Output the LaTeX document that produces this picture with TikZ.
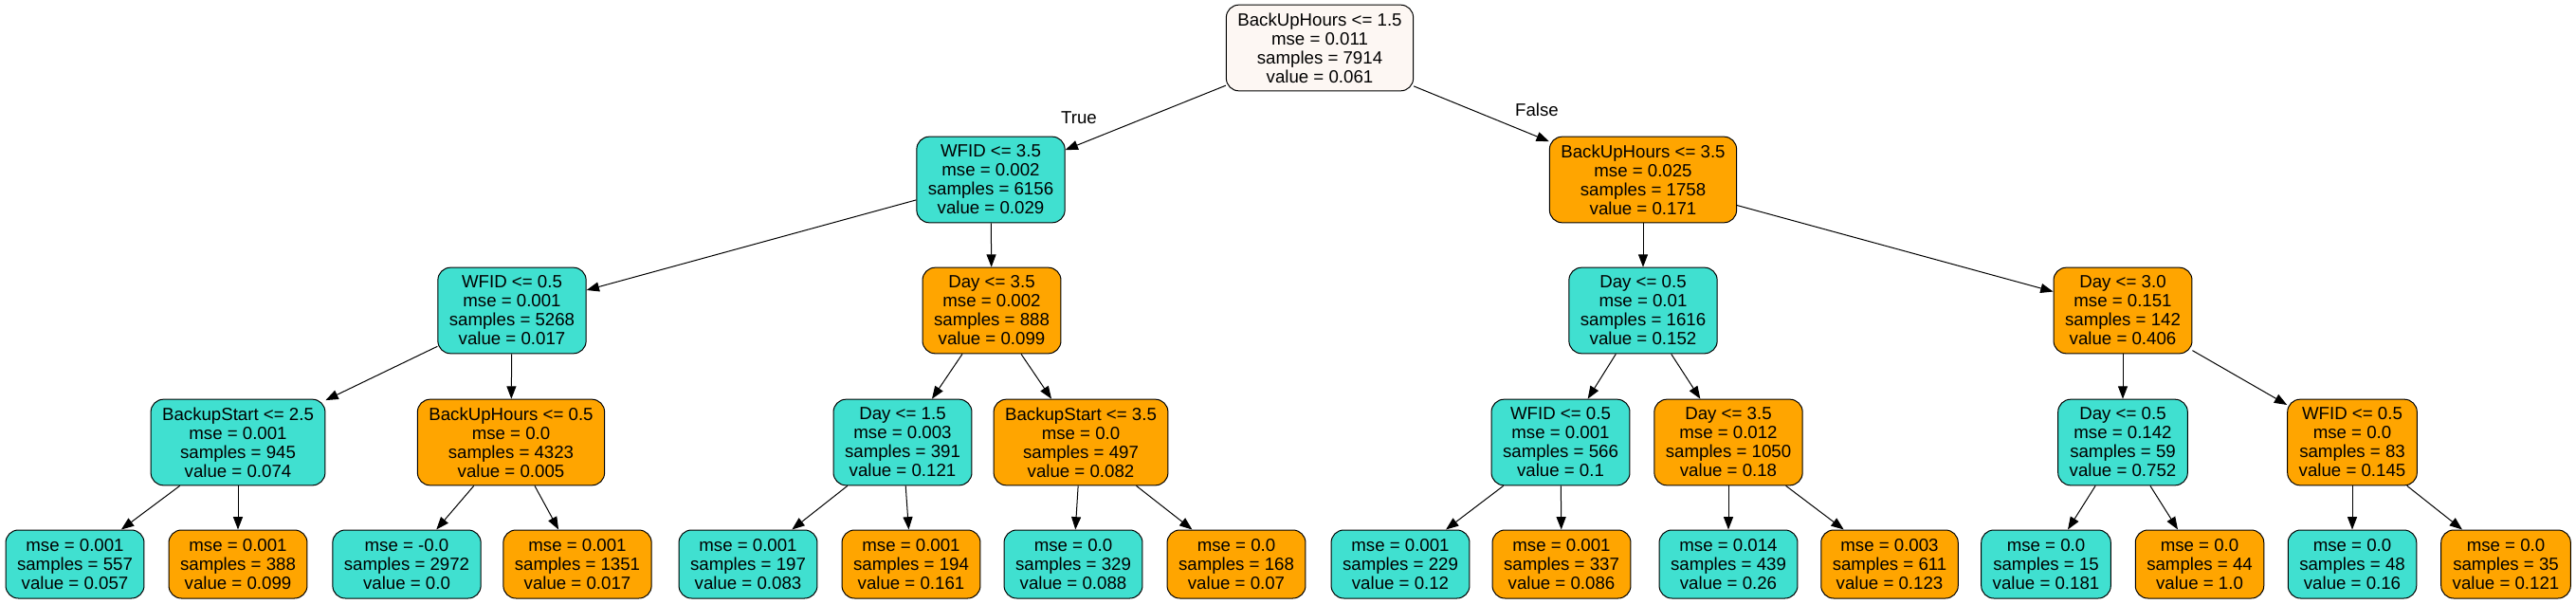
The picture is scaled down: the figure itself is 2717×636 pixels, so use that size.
\documentclass[tikz,border=0pt]{standalone}
\usepackage{fontspec}
\setmainfont{Liberation Sans}
\usetikzlibrary{arrows.meta}

\definecolor{turq}{RGB}{64,224,208}
\definecolor{orng}{RGB}{255,165,0}
\definecolor{rootfill}{RGB}{253,247,243}

\begin{document}
\begin{tikzpicture}[x=0.75pt,y=-0.75pt,
		box/.style={draw,rounded corners=10pt,line width=0.75pt,align=center,
			inner xsep=9pt,font=\fontsize{14}{15}\selectfont},
		split/.style={box,minimum height=68pt},
		leaf/.style={box,minimum height=54pt},
		lo/.style={fill=turq},
		hi/.style={fill=orng},
		edge/.style={line width=0.75pt,-{Triangle[length=10pt,width=7.5pt]}},
		lbl/.style={font=\fontsize{14}{15}\selectfont,inner sep=0pt}]
				\useasboundingbox (0,0) rectangle (2717,636);
				% root
				\node[split,fill=rootfill] (root) at (1392,50.5)
					{BackUpHours <= 1.5\\mse = 0.011\\samples = 7914\\value = 0.061};
				% depth 1
				\node[split,lo] (L) at (1045,189.5)
					{WFID <= 3.5\\mse = 0.002\\samples = 6156\\value = 0.029};
				\node[split,hi] (R) at (1733,189.5)
					{BackUpHours <= 3.5\\mse = 0.025\\samples = 1758\\value = 0.171};
				% depth 2
				\node[split,lo] (LL) at (540,327.5)
					{WFID <= 0.5\\mse = 0.001\\samples = 5268\\value = 0.017};
				\node[split,hi] (LR) at (1046,327.5)
					{Day <= 3.5\\mse = 0.002\\samples = 888\\value = 0.099};
				\node[split,lo] (RL) at (1733,327.5)
					{Day <= 0.5\\mse = 0.01\\samples = 1616\\value = 0.152};
				\node[split,hi] (RR) at (2239,327.5)
					{Day <= 3.0\\mse = 0.151\\samples = 142\\value = 0.406};
				% depth 3
				\node[split,lo] (LLL) at (251,466.5)
					{BackupStart <= 2.5\\mse = 0.001\\samples = 945\\value = 0.074};
				\node[split,hi] (LLR) at (539,466.5)
					{BackUpHours <= 0.5\\mse = 0.0\\samples = 4323\\value = 0.005};
				\node[split,lo] (LRL) at (952,466.5)
					{Day <= 1.5\\mse = 0.003\\samples = 391\\value = 0.121};
				\node[split,hi] (LRR) at (1140,466.5)
					{BackupStart <= 3.5\\mse = 0.0\\samples = 497\\value = 0.082};
				\node[split,lo] (RLL) at (1646,466.5)
					{WFID <= 0.5\\mse = 0.001\\samples = 566\\value = 0.1};
				\node[split,hi] (RLR) at (1823,466.5)
					{Day <= 3.5\\mse = 0.012\\samples = 1050\\value = 0.18};
				\node[split,lo] (RRL) at (2239,466.5)
					{Day <= 0.5\\mse = 0.142\\samples = 59\\value = 0.752};
				\node[split,hi] (RRR) at (2481,466.5)
					{WFID <= 0.5\\mse = 0.0\\samples = 83\\value = 0.145};
				% leaves
				\node[leaf,lo] (LLLL) at (79,595) {mse = 0.001\\samples = 557\\value = 0.057};
				\node[leaf,hi] (LLLR) at (251,595) {mse = 0.001\\samples = 388\\value = 0.099};
				\node[leaf,lo] (LLRL) at (429,595) {mse = -0.0\\samples = 2972\\value = 0.0};
				\node[leaf,hi] (LLRR) at (609,595) {mse = 0.001\\samples = 1351\\value = 0.017};
				\node[leaf,lo] (LRLL) at (789,595) {mse = 0.001\\samples = 197\\value = 0.083};
				\node[leaf,hi] (LRLR) at (961,595) {mse = 0.001\\samples = 194\\value = 0.161};
				\node[leaf,lo] (LRRL) at (1132,595) {mse = 0.0\\samples = 329\\value = 0.088};
				\node[leaf,hi] (LRRR) at (1304,595) {mse = 0.0\\samples = 168\\value = 0.07};
				\node[leaf,lo] (RLLL) at (1477,595) {mse = 0.001\\samples = 229\\value = 0.12};
				\node[leaf,hi] (RLLR) at (1647,595) {mse = 0.001\\samples = 337\\value = 0.086};
				\node[leaf,lo] (RLRL) at (1823,595) {mse = 0.014\\samples = 439\\value = 0.26};
				\node[leaf,hi] (RLRR) at (1993,595) {mse = 0.003\\samples = 611\\value = 0.123};
				\node[leaf,lo] (RRLL) at (2158,595) {mse = 0.0\\samples = 15\\value = 0.181};
				\node[leaf,hi] (RRLR) at (2320,595) {mse = 0.0\\samples = 44\\value = 1.0};
				\node[leaf,lo] (RRRL) at (2481,595) {mse = 0.0\\samples = 48\\value = 0.16};
				\node[leaf,hi] (RRRR) at (2643,595) {mse = 0.0\\samples = 35\\value = 0.121};
				% edges
				\foreach \a/\b in {root/L,root/R,L/LL,L/LR,R/RL,R/RR,
						LL/LLL,LL/LLR,LR/LRL,LR/LRR,RL/RLL,RL/RLR,RR/RRL,RR/RRR,
						LLL/LLLL,LLL/LLLR,LLR/LLRL,LLR/LLRR,LRL/LRLL,LRL/LRLR,LRR/LRRL,LRR/LRRR,
						RLL/RLLL,RLL/RLLR,RLR/RLRL,RLR/RLRR,RRL/RRLL,RRL/RRLR,RRR/RRRL,RRR/RRRR}
					\draw[edge] (\a) -- (\b);
				\node[lbl] (true) at (1138,124.5) {True};
				\node[lbl] (false) at (1621,116) {False};
			\end{tikzpicture}
\end{document}
